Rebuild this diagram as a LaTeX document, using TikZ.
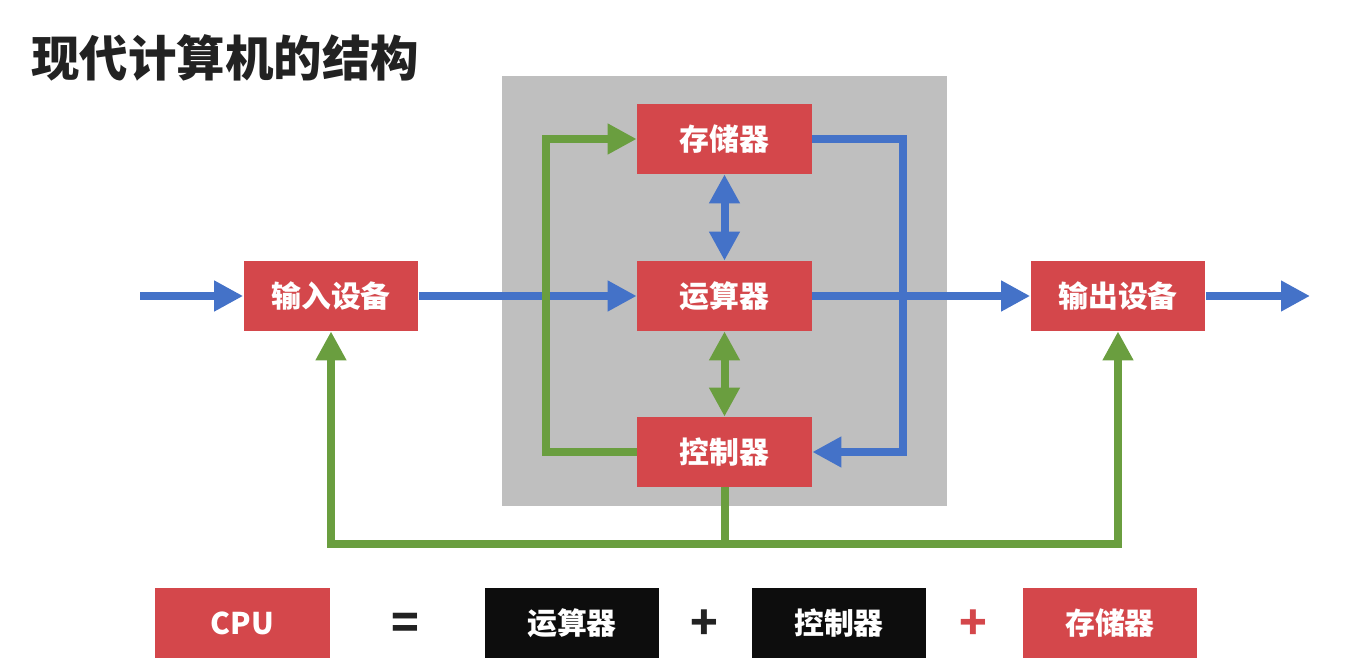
\documentclass[tikz,border=0pt]{standalone}
\usepackage{fontspec}
\setmainfont{Noto Sans CJK SC}
\usetikzlibrary{arrows.meta}
\definecolor{boxred}{HTML}{D4474B}
\definecolor{flowblue}{HTML}{4472C8}
\definecolor{flowgreen}{HTML}{6A9E3F}
\definecolor{panelgray}{HTML}{BFBFBF}
\definecolor{titleink}{HTML}{222222}
\begin{document}
\begin{tikzpicture}[x=0.02cm, y=-0.02cm,
  >={Triangle[length=0.58cm,width=0.58cm]},
  unit/.style={fill=boxred, text=white, font=\bfseries\fontsize{17}{20}\selectfont,
    minimum width=3.5cm, minimum height=1.4cm, inner sep=0pt},
  blackunit/.style={unit, fill=black!95},
  dataflow/.style={draw=flowblue, line width=0.16cm},
  ctrlflow/.style={draw=flowgreen, line width=0.16cm}]
  \useasboundingbox (0,0) rectangle (1353,671);
  \fill[panelgray] (502,76) rectangle (947,506);
  \node[anchor=west, text=titleink, font=\bfseries\fontsize{27.6}{30}\selectfont, inner sep=0pt] (title) at (31,58) {现代计算机的结构};
  \node[unit] (mem) at (724.5,139) {存储器};
  \node[unit] (alu) at (724.5,296) {运算器};
  \node[unit] (ctrl) at (724.5,452) {控制器};
  \node[unit] (in) at (331,296) {输入设备};
  \node[unit] (out) at (1118,296) {输出设备};
  \coordinate (src) at (140,296);
  \coordinate (sink) at (1310,296);
  % data paths
  \draw[dataflow,->] (src) -- (in);
  \draw[dataflow,->] (in) -- (alu);
  \draw[dataflow,->] (alu) -- (out);
  \draw[dataflow,->] (out) -- (sink);
  \draw[dataflow,<->] (mem) -- (alu);
  \draw[dataflow,->] (mem.east) -- ++(91,0) |- (ctrl.east);
  % control paths
  \draw[ctrlflow,<->] (alu) -- (ctrl);
  \draw[ctrlflow,->] (ctrl.west) -- ++(-91,0) |- (mem.west);
  \draw[ctrlflow,->] (ctrl.south) -- ++(0,57) -| (in.south);
  \draw[ctrlflow,->] (ctrl.south) -- ++(0,57) -| (out.south);
  % CPU = ...
  \node[unit] (cpu) at (242.5,623) {CPU};
  \node[font=\bfseries\fontsize{26}{30}\selectfont, text=titleink] (eq) at (405,626) {=};
  \node[blackunit] (alu2) at (572,623) {运算器};
  \node[font=\bfseries\fontsize{26}{30}\selectfont, text=titleink] (plus1) at (704,625) {+};
  \node[blackunit] (ctrl2) at (839,623) {控制器};
  \node[font=\bfseries\fontsize{26}{30}\selectfont, text=boxred] (plus2) at (973,625) {+};
  \node[unit] (mem2) at (1110,623) {存储器};
\end{tikzpicture}
\end{document}
